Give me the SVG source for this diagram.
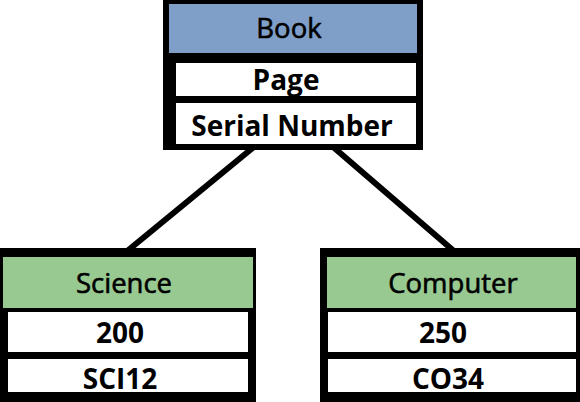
<svg xmlns="http://www.w3.org/2000/svg" width="580" height="402" viewBox="0 0 580 402">
<style>
.frame{fill:#000}
.hdrB{fill:#809fc8}
.hdrG{fill:#98c991}
.row{fill:#fff}
.title{font-family:"Open Sans","Liberation Sans",sans-serif;font-size:27.5px;font-weight:normal;fill:#000;stroke:#000;stroke-width:0.6;text-anchor:middle}
.cell{font-family:"Open Sans","Liberation Sans",sans-serif;font-size:28px;font-weight:bold;fill:#000;text-anchor:middle}
.conn{stroke:#000;stroke-width:6;fill:none}
</style>
<rect width="580" height="402" fill="#fff"/>
<g id="connectors">
<line class="conn" x1="255" y1="146" x2="126" y2="252"/>
<line class="conn" x1="332" y1="146" x2="455" y2="252"/>
</g>
<g id="book">
<rect class="frame" x="163" y="0" width="260" height="150"/>
<rect class="hdrB" x="169" y="4" width="248" height="49"/>
<rect class="row" x="176" y="63" width="240" height="33"/>
<rect class="row" x="176" y="103" width="240" height="41"/>
<text class="title" x="289" y="38">Book</text>
<text class="cell" x="286" y="90">Page</text>
<text class="cell" x="292" y="136">Serial Number</text>
</g>
<g id="science">
<rect class="frame" x="0" y="248" width="256" height="154"/>
<rect class="hdrG" x="3" y="257" width="250" height="51"/>
<rect class="row" x="8" y="312" width="240" height="40"/>
<rect class="row" x="8" y="359" width="240" height="33"/>
<text class="title" x="124" y="293">Science</text>
<text class="cell" x="120" y="343">200</text>
<text class="cell" x="120" y="389">SCI12</text>
</g>
<g id="computer">
<rect class="frame" x="320" y="248" width="260" height="154"/>
<rect class="hdrG" x="327" y="257" width="249" height="51"/>
<rect class="row" x="328" y="312" width="248" height="40"/>
<rect class="row" x="328" y="359" width="248" height="33"/>
<text class="title" x="453" y="293">Computer</text>
<text class="cell" x="443" y="343">250</text>
<text class="cell" x="448" y="389">CO34</text>
</g>
</svg>
